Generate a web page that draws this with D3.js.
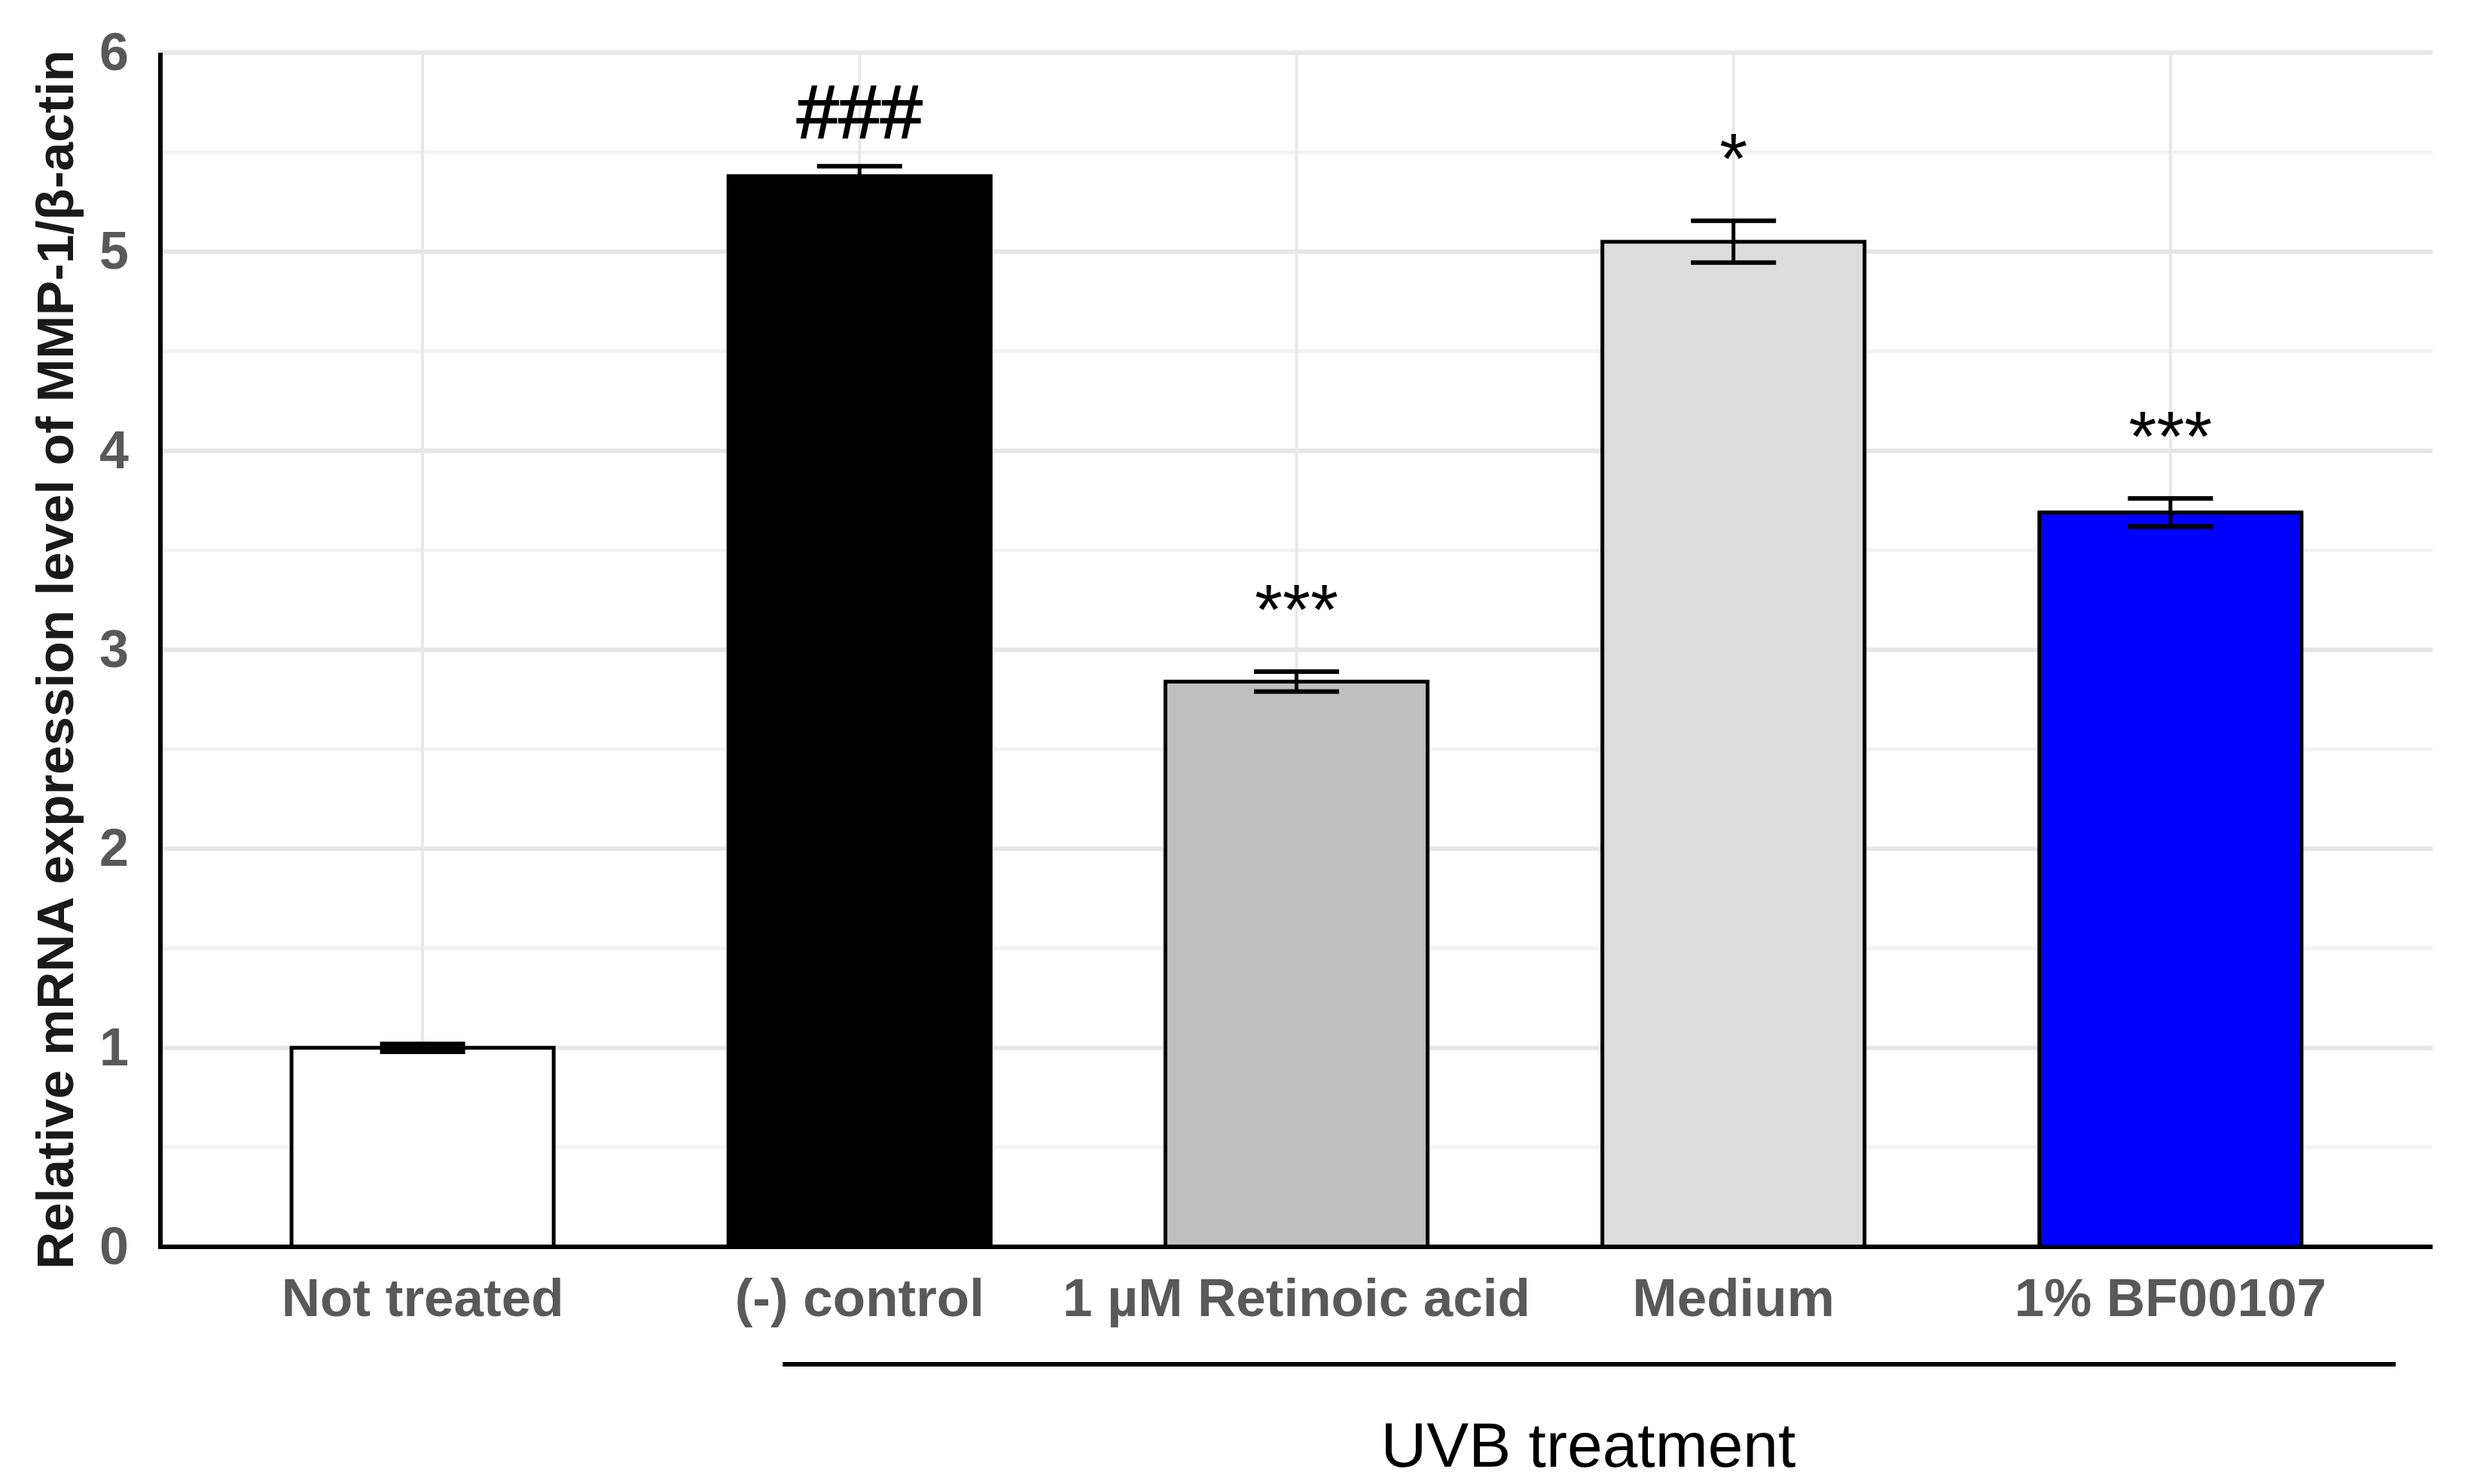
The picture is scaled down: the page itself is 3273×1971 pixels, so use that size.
<!DOCTYPE html>
<html>
<head>
<meta charset="utf-8">
<script src="https://cdn.jsdelivr.net/npm/d3@7"></script>
<style>
	body { margin: 0; background: #fff; }
	text { font-family: "Liberation Sans", Arial, sans-serif; }
</style>
</head>
<body>
<script>
(function() {

	var width = 3273;
	var height = 1971;

	// data
	var categories = ['Not treated', '(-) control', '1 \u00b5M Retinoic acid', 'Medium', '1% BF00107'];
	var means = [1.00, 5.38, 2.84, 5.05, 3.69];
	var errors = [0.02, 0.05, 0.05, 0.105, 0.07];
	var marks = ['', '###', '***', '*', '***'];
	var fills = ['#ffffff', '#000000', '#bfbfbf', '#dcdcdc', '#0000ff'];
	var yTicks = [0, 1, 2, 3, 4, 5, 6];
	var yMinor = [0.5, 1.5, 2.5, 3.5, 4.5, 5.5];
	var uvbGroup = ['(-) control', '1% BF00107'];

	var left = 213, right = 3230, top = 70, bottom = 1656;

	var x = d3.scaleBand()
		.domain(categories)
		.range([left, right])
		.paddingInner(0.4)
		.paddingOuter(0.3);

	var y = d3.scaleLinear()
		.domain([0, 6])
		.range([bottom, top]);

	var svg = d3.select('body')
		.append('svg')
			.attr('width', width)
			.attr('height', height);

	// grid
	svg.append('g').selectAll('line')
		.data(yMinor)
		.enter().append('line')
			.attr('x1', left).attr('x2', right)
			.attr('y1', d => y(d)).attr('y2', d => y(d))
			.style('stroke', '#f2f2f2')
			.style('stroke-width', 5);

	svg.append('g').selectAll('line')
		.data(yTicks.slice(1))
		.enter().append('line')
			.attr('x1', left).attr('x2', right)
			.attr('y1', d => y(d)).attr('y2', d => y(d))
			.style('stroke', '#e6e6e6')
			.style('stroke-width', 6);

	svg.append('g').selectAll('line')
		.data(categories)
		.enter().append('line')
			.attr('x1', d => x(d) + x.bandwidth()/2)
			.attr('x2', d => x(d) + x.bandwidth()/2)
			.attr('y1', top).attr('y2', bottom)
			.style('stroke', '#e8e8e8')
			.style('stroke-width', 4);

	// bars
	svg.append('g').selectAll('rect')
		.data(categories)
		.enter().append('rect')
			.attr('x', d => x(d))
			.attr('y', (d, i) => y(means[i]))
			.attr('width', x.bandwidth())
			.attr('height', (d, i) => y(0) - y(means[i]))
			.style('fill', (d, i) => fills[i])
			.style('stroke', '#000')
			.style('stroke-width', 5);

	// error bars
	var capW = 113;
	var err = svg.append('g');
	categories.forEach(function(c, i) {
		var cx = x(c) + x.bandwidth()/2;
		var hi = y(means[i] + errors[i]);
		var lo = y(means[i] - errors[i]);
		err.append('line')
			.attr('x1', cx).attr('x2', cx)
			.attr('y1', hi).attr('y2', lo)
			.style('stroke', '#000').style('stroke-width', 5);
		[hi, lo].forEach(function(yy) {
			err.append('line')
				.attr('x1', cx - capW/2).attr('x2', cx + capW/2)
				.attr('y1', yy).attr('y2', yy)
				.style('stroke', '#000').style('stroke-width', 6);
		});
		if (marks[i]) {
			var isHash = marks[i].charAt(0) == '#';
			svg.append('text')
				.attr('x', cx)
				.attr('y', hi - (isHash ? 38 : 50))
				.attr('text-anchor', 'middle')
				.style('font-size', isHash ? '100px' : '95px')
				.style('fill', '#000')
				.style('stroke', isHash ? '#000' : 'none')
				.style('stroke-width', 2)
				.text(marks[i]);
		}
	});

	// axes
	var yAxis = svg.append('g')
		.attr('transform', 'translate(' + left + ',0)')
		.call(d3.axisLeft(y).tickValues(yTicks).tickSize(0).tickPadding(42).tickFormat(d3.format('d')));
	yAxis.select('.domain').remove();
	yAxis.selectAll('text')
		.style('font-size', '70px')
		.style('font-weight', 'bold')
		.style('fill', '#595959');

	var xAxis = svg.append('g')
		.attr('transform', 'translate(0,' + bottom + ')')
		.call(d3.axisBottom(x).tickSize(0).tickPadding(42));
	xAxis.select('.domain').remove();
	xAxis.selectAll('text')
		.style('font-size', '71px')
		.style('font-weight', 'bold')
		.style('fill', '#595959');

	svg.append('line')
		.attr('x1', left).attr('x2', left)
		.attr('y1', top).attr('y2', bottom + 3)
		.style('stroke', '#000').style('stroke-width', 6);
	svg.append('line')
		.attr('x1', left - 3).attr('x2', right)
		.attr('y1', bottom).attr('y2', bottom)
		.style('stroke', '#000').style('stroke-width', 6);

	// y title
	svg.append('text')
		.attr('transform', 'translate(97,876) rotate(-90)')
		.attr('text-anchor', 'middle')
		.style('font-size', '69px')
		.style('font-weight', 'bold')
		.style('fill', '#1a1a1a')
		.text('Relative mRNA expression level of MMP-1/\u03b2-actin');

	// UVB bracket
	svg.append('line')
		.attr('x1', x(uvbGroup[0]) + 72)
		.attr('x2', x(uvbGroup[1]) + x.bandwidth() + 125)
		.attr('y1', 1812).attr('y2', 1812)
		.style('stroke', '#000').style('stroke-width', 6);

	svg.append('text')
		.attr('x', 2109)
		.attr('y', 1948)
		.attr('text-anchor', 'middle')
		.style('font-size', '84px')
		.style('fill', '#000')
		.text('UVB treatment');

})();
</script>
</body>
</html>
